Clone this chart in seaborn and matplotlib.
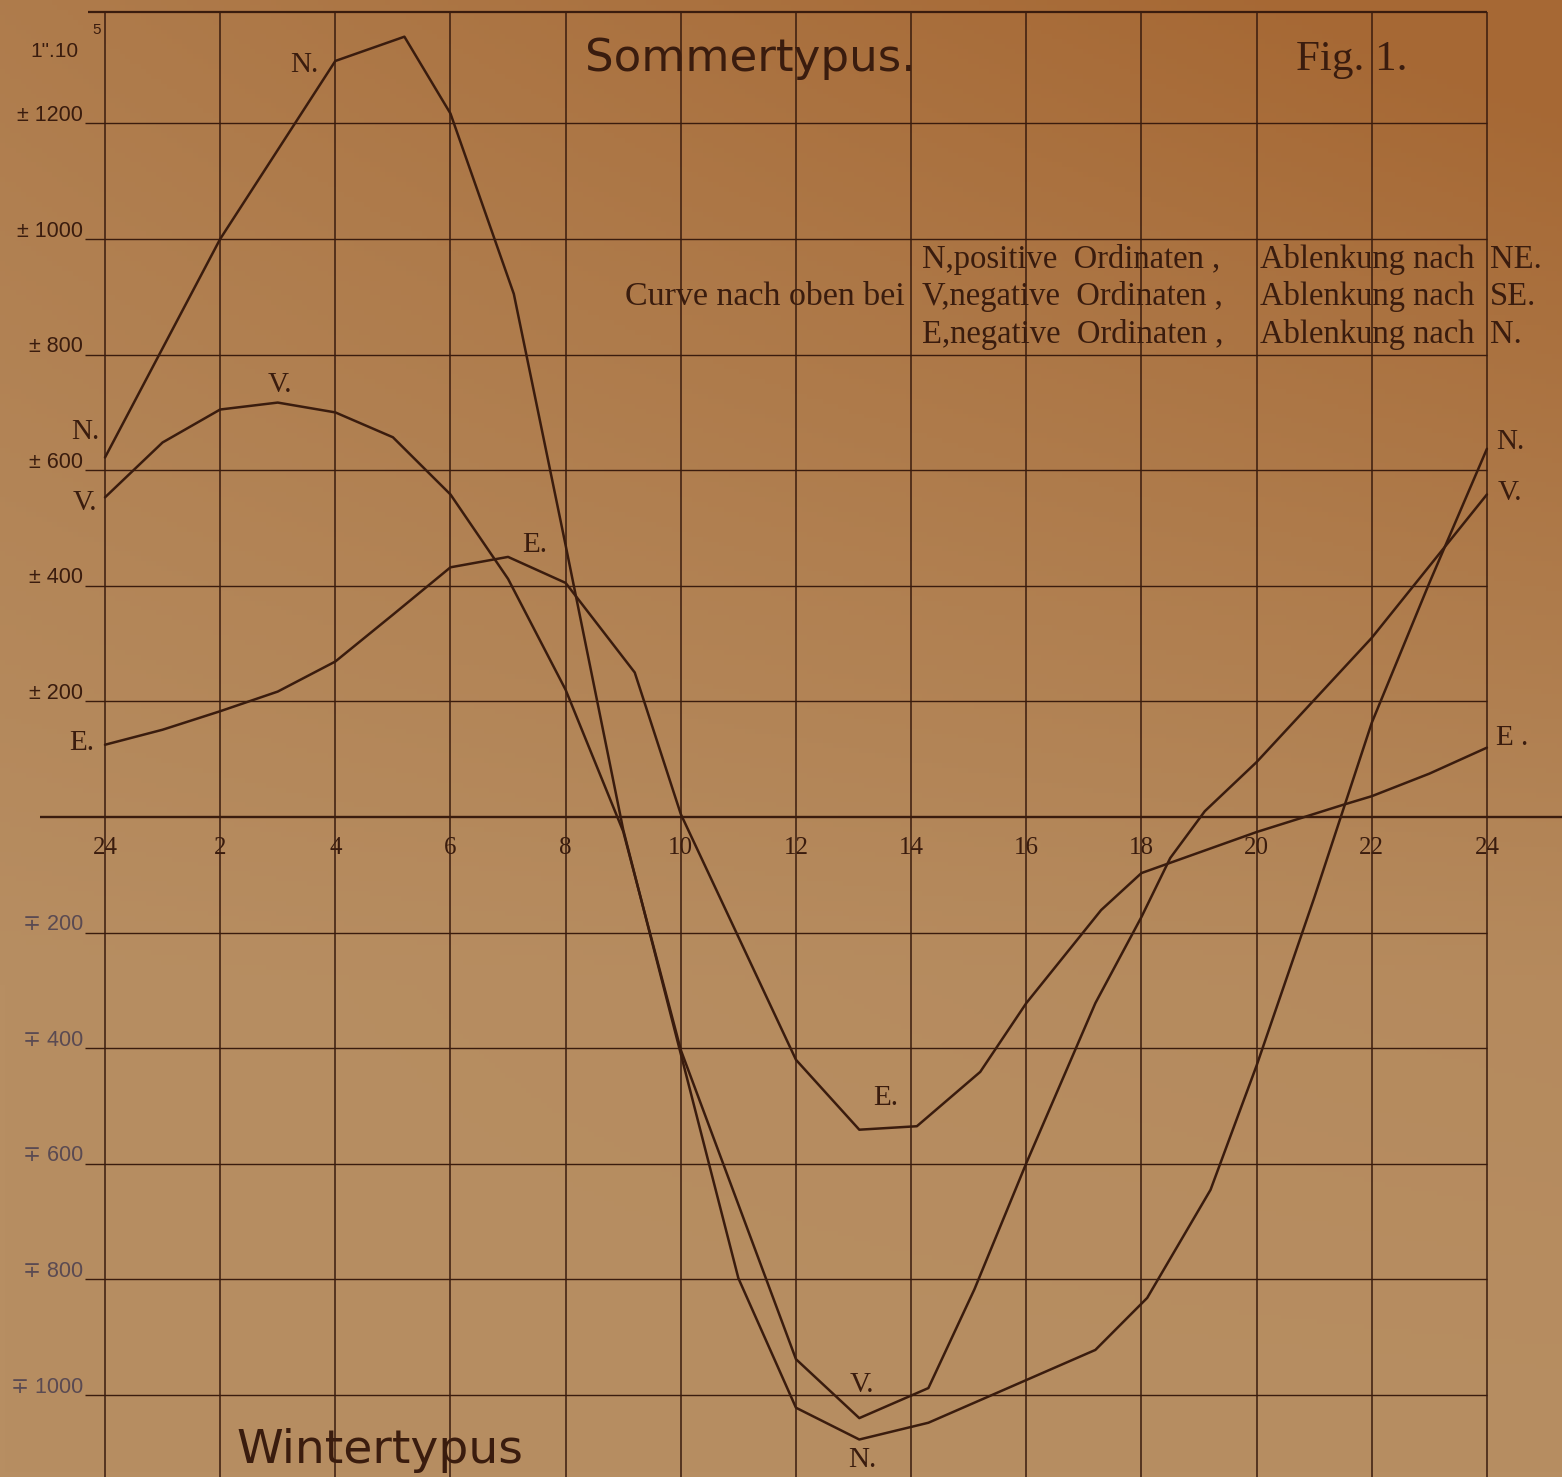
import numpy as np
import pandas as pd
import matplotlib
matplotlib.use('Agg')
import matplotlib.pyplot as plt
import seaborn as sns

# hours of the day (0 == 24) and deflection values
n_hours = [0, 2, 4, 5.2, 6, 7.1, 8, 9, 11, 12, 13.1, 14.3, 17.2, 18.1, 19.2, 20, 21, 22, 23, 24]
n_values = [622, 1000, 1308, 1350, 1217, 905, 470, -22, -798, -1022, -1077, -1048, -922, -832, -645, -430, -140, 163, 405, 637]

v_hours = [0, 1, 2, 3, 4, 5, 6, 7, 8, 9, 10, 12, 13.1, 14.3, 15.1, 16, 17.2, 18, 18.5, 19.1, 20, 22, 24]
v_values = [553, 648, 705, 717, 700, 657, 558, 412, 220, -25, -403, -938, -1040, -988, -817, -599, -322, -173, -71, 10, 95, 310, 558]

e_hours = [0, 1, 2, 3, 4, 5, 6, 7, 8, 9.2, 10, 12, 13.1, 14.1, 15.2, 16, 17.3, 18, 20, 21.5, 22, 23, 24]
e_values = [125, 151, 183, 217, 269, 350, 432, 450, 405, 250, 5, -420, -541, -535, -441, -322, -161, -97, -26, 21, 36, 75, 120]

hour_ticks = list(range(0, 25, 2))
hour_labels = ['24', '2', '4', '6', '8', '10', '12', '14', '16', '18', '20', '22', '24']
value_ticks = [1200, 1000, 800, 600, 400, 200, -200, -400, -600, -800, -1000]
value_labels = ['± 1200', '± 1000', '± 800', '± 600', '± 400', '± 200',
                '∓ 200', '∓ 400', '∓ 600', '∓ 800', '∓ 1000']

curves = pd.concat([
    pd.DataFrame({'hour': n_hours, 'value': n_values, 'curve': 'N'}),
    pd.DataFrame({'hour': v_hours, 'value': v_values, 'curve': 'V'}),
    pd.DataFrame({'hour': e_hours, 'value': e_values, 'curve': 'E'}),
])

sns.set_style('white')
plt.rcParams['font.family'] = ['Liberation Serif', 'DejaVu Serif']

ink = '#3a1c0e'
px_h, px_v = 57.58, 0.578
x0, y0 = 105, 817
xlim = (-x0 / px_h, (1562 - x0) / px_h)
ylim = (-(1477 - y0) / px_v, y0 / px_v)
top = (y0 - 12) / px_v

fig = plt.figure(figsize=(15.62, 14.77), dpi=100)
ax = fig.add_axes([0, 0, 1, 1])

# aged paper background
yy, xx = np.mgrid[0:1:300j, 0:1:300j]
warm = np.clip(0.8 * (1 - yy * 1.5), 0, 1) * (0.6 + 0.4 * xx) + 0.3 * xx * (1 - yy)
base = np.array([183, 142, 98]) / 255
dark = np.array([166, 104, 52]) / 255
img = base + (dark - base) * np.clip(warm, 0, 1)[..., None]
ax.imshow(img, extent=(*xlim, *ylim), aspect='auto', origin='upper', zorder=0)

# grid
ax.vlines(hour_ticks, ylim[0], top, color=ink, lw=1.1, zorder=1)
ax.hlines(value_ticks, -0.35, 24, color=ink, lw=1.0, zorder=1)
ax.hlines(top, -0.3, 24, color=ink, lw=1.6, zorder=1)
ax.hlines(0, -1.13, xlim[1], color=ink, lw=1.7, zorder=1)

sns.lineplot(data=curves, x='hour', y='value', hue='curve', palette=[ink] * 3,
             estimator=None, sort=False, legend=False, lw=1.8, ax=ax, zorder=3)

# tick labels
for h, lab in zip(hour_ticks, hour_labels):
    ax.text(h, -54, lab, ha='center', va='center', fontsize=18, color=ink)
for v, lab in zip(value_ticks, value_labels):
    col = ink if v > 0 else '#5a4a52'
    ax.text(-0.38, v + 4, lab, ha='right', va='baseline', fontsize=15.5, color=col,
            family=['Liberation Sans', 'DejaVu Sans'])
ax.text(-0.87, 1325, '1".10', ha='center', va='center', fontsize=15, color=ink,
        family=['Liberation Sans', 'DejaVu Sans'])
ax.text(-0.15, 1362, '5', ha='center', va='center', fontsize=11, color=ink,
        family=['Liberation Sans', 'DejaVu Sans'])

# titles
ax.text(11.2, 1313, 'Sommertypus.', ha='center', va='center', fontsize=32.5, color=ink,
        family=['DejaVu Sans'])
ax.text(21.65, 1310, 'Fig. 1.', ha='center', va='center', fontsize=31, color=ink)
ax.text(2.29, -1118, 'Wintertypus', ha='left', va='baseline', fontsize=34, color=ink,
        family=['DejaVu Sans'])

# explanation block
rows = [(964, 'N,positive  Ordinaten ,', 'Ablenkung nach', 'NE.'),
        (900, 'V,negative  Ordinaten ,', 'Ablenkung nach', 'SE.'),
        (834, 'E,negative  Ordinaten ,', 'Ablenkung nach', 'N.')]
for y, a, b, c in rows:
    ax.text(14.19, y, a, ha='left', va='center', fontsize=23.5, color=ink)
    ax.text(20.06, y, b, ha='left', va='center', fontsize=23.5, color=ink)
    ax.text(24.05, y, c, ha='left', va='center', fontsize=23.5, color=ink)
ax.text(13.89, 900, 'Curve nach oben bei', ha='right', va='center', fontsize=24.5, color=ink)

# curve labels
curve_labels = [(3.47, 1301, 'N.'), (3.04, 747, 'V.'), (7.47, 471, 'E.'),
                (-0.35, 666, 'N.'), (-0.35, 543, 'V.'), (-0.40, 128, 'E.'),
                (24.4, 649, 'N.'), (24.4, 561, 'V.'), (24.44, 137, 'E .'),
                (13.55, -486, 'E.'), (13.15, -983, 'V.'), (13.15, -1112, 'N.')]
for h, v, lab in curve_labels:
    ax.text(h, v, lab, ha='center', va='center', fontsize=21, color=ink)

ax.set_xlim(*xlim)
ax.set_ylim(*ylim)
ax.set_axis_off()
fig.savefig('out.png', dpi=100)
